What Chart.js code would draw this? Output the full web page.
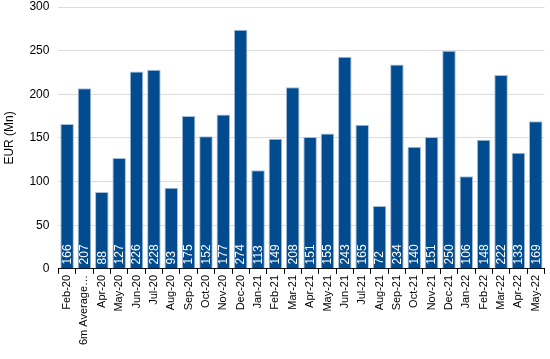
<!DOCTYPE html>
<html>
<head>
<meta charset="utf-8">
<script src="https://cdn.jsdelivr.net/npm/chart.js@4/dist/chart.umd.min.js"></script>
<style>
  html, body { margin: 0; padding: 0; background: #fff; }
  #wrap { width: 550px; height: 359px; }
</style>
</head>
<body>
<div id="wrap"><canvas id="chart"></canvas></div>
<script>
// Chart data
const months = ['Feb-20', '6m Average\u2026', 'Apr-20', 'May-20', 'Jun-20', 'Jul-20', 'Aug-20', 'Sep-20',
    'Oct-20', 'Nov-20', 'Dec-20', 'Jan-21', 'Feb-21', 'Mar-21', 'Apr-21', 'May-21', 'Jun-21', 'Jul-21',
    'Aug-21', 'Sep-21', 'Oct-21', 'Nov-21', 'Dec-21', 'Jan-22', 'Feb-22', 'Mar-22', 'Apr-22', 'May-22'];
const values = [166, 207, 88, 127, 226, 228, 93, 175, 152, 177, 274, 113, 149, 208, 151, 155, 243, 165,
    72, 234, 140, 151, 250, 106, 148, 222, 133, 169];
const yTicks = [0, 50, 100, 150, 200, 250, 300];

const fontFamily = '"Liberation Sans", Arial, sans-serif';

// Value labels drawn vertically inside each bar
const barLabels = {
    id: 'barLabels',
    afterDatasetsDraw(chart) {
        const ctx = chart.ctx;
        const meta = chart.getDatasetMeta(0);
        ctx.save();
        ctx.fillStyle = '#ffffff';
        ctx.font = '12px ' + fontFamily;
        ctx.textAlign = 'left';
        ctx.textBaseline = 'middle';
        meta.data.forEach((bar, i) => {
            ctx.save();
            ctx.translate(bar.x + 0.5, bar.base - 4);
            ctx.rotate(-Math.PI / 2);
            ctx.fillText(String(values[i]), 0, 0);
            ctx.restore();
        });
        ctx.restore();
    }
};

new Chart(document.getElementById('chart'), {
    type: 'bar',
    data: {
        labels: months,
        datasets: [{
            data: values,
            backgroundColor: '#024b8e',
            borderColor: '#a3bfdc',
            borderWidth: { right: 1, top: 1, left: 1, bottom: 0 },
            borderSkipped: false,
            barPercentage: 0.78,
            categoryPercentage: 1
        }]
    },
    options: {
        responsive: true,
        maintainAspectRatio: false,
        animation: false,
        layout: { padding: { left: 0, right: 2, top: 0, bottom: 13 } },
        plugins: {
            legend: { display: false },
            tooltip: { enabled: false }
        },
        scales: {
            x: {
                grid: {
                    drawOnChartArea: false,
                    drawTicks: true,
                    tickLength: 5,
                    color: '#000000'
                },
                border: { display: true, color: '#000000', width: 1 },
                ticks: {
                    color: '#000000',
                    font: { family: fontFamily, size: 11 },
                    minRotation: 90,
                    maxRotation: 90,
                    autoSkip: false,
                    padding: 1
                }
            },
            y: {
                min: 0,
                max: 300,
                afterBuildTicks(axis) {
                    axis.ticks = yTicks.map(v => ({ value: v }));
                },
                // tick padding also pads the top; keep only half a label there
                afterFit(axis) {
                    axis.paddingTop = 7;
                    axis.paddingBottom = 0;
                },
                grid: {
                    color: '#dcdcdc',
                    lineWidth: 1,
                    drawTicks: false
                },
                border: { display: false },
                ticks: {
                    color: '#000000',
                    font: { family: fontFamily, size: 12 },
                    padding: 9
                },
                title: {
                    display: true,
                    text: 'EUR (Mn)',
                    color: '#000000',
                    font: { family: fontFamily, size: 12 },
                    padding: { top: 2, bottom: 4 }
                }
            }
        }
    },
    plugins: [barLabels]
});
</script>
</body>
</html>
